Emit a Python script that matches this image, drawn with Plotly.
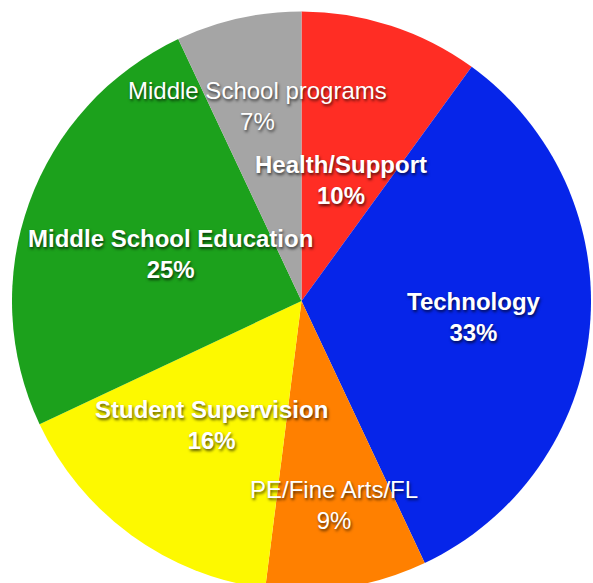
import math
import plotly.graph_objects as go

# Budget allocation (percent), clockwise from 12 o'clock
categories = ["Health/Support", "Technology", "PE/Fine Arts/FL",
              "Student Supervision", "Middle School Education",
              "Middle School programs"]
values = [10, 33, 9, 16, 25, 7]
colors = ["#FF2D24", "#0625E9", "#FF8000", "#FDF900", "#1CA11C", "#A5A5A5"]
bold = [True, True, False, True, True, False]

# label placement: distance from centre as a fraction of the radius
label_radius = [0.44, 0.60, 0.715, 0.53, 0.48, 0.69]

W, H = 593, 600
cx, cy, R = 301.5, 301.0, 289.5

fig = go.Figure(go.Pie(
    labels=categories, values=values, sort=False, direction="clockwise",
    rotation=0, textinfo="none", hoverinfo="label+percent",
    marker=dict(colors=colors, line=dict(width=0)),
    domain=dict(x=[(cx - R) / W, (cx + R) / W],
                y=[1 - (cy + R) / H, 1 - (cy - R) / H]),
    showlegend=False,
))

total = sum(values)
cum = 0
for cat, v, b, rf in zip(categories, values, bold, label_radius):
    mid = (cum + v / 2) / total * 360
    cum += v
    a = math.radians(mid)
    px = cx + rf * R * math.sin(a)
    py = cy - rf * R * math.cos(a)
    txt = f"{cat}<br>{v}%"
    if b:
        txt = f"<b>{cat}</b><br><b>{v}%</b>"
    fig.add_annotation(
        x=px / W, y=1 - py / H, xref="paper", yref="paper",
        xanchor="center", yanchor="middle",
        text=txt, showarrow=False, align="center",
        font=dict(family="Liberation Sans, Arial, sans-serif", size=24,
                  color="white", shadow="1px 2px 3px rgba(0,0,0,0.65)"),
    )

fig.update_layout(width=W, height=H, margin=dict(l=0, r=0, t=0, b=0),
                  paper_bgcolor="white", plot_bgcolor="white")

fig.write_html("out.html", post_script=(
    "document.documentElement.style.overflow='hidden';"
    "document.body.style.overflow='hidden';"))
